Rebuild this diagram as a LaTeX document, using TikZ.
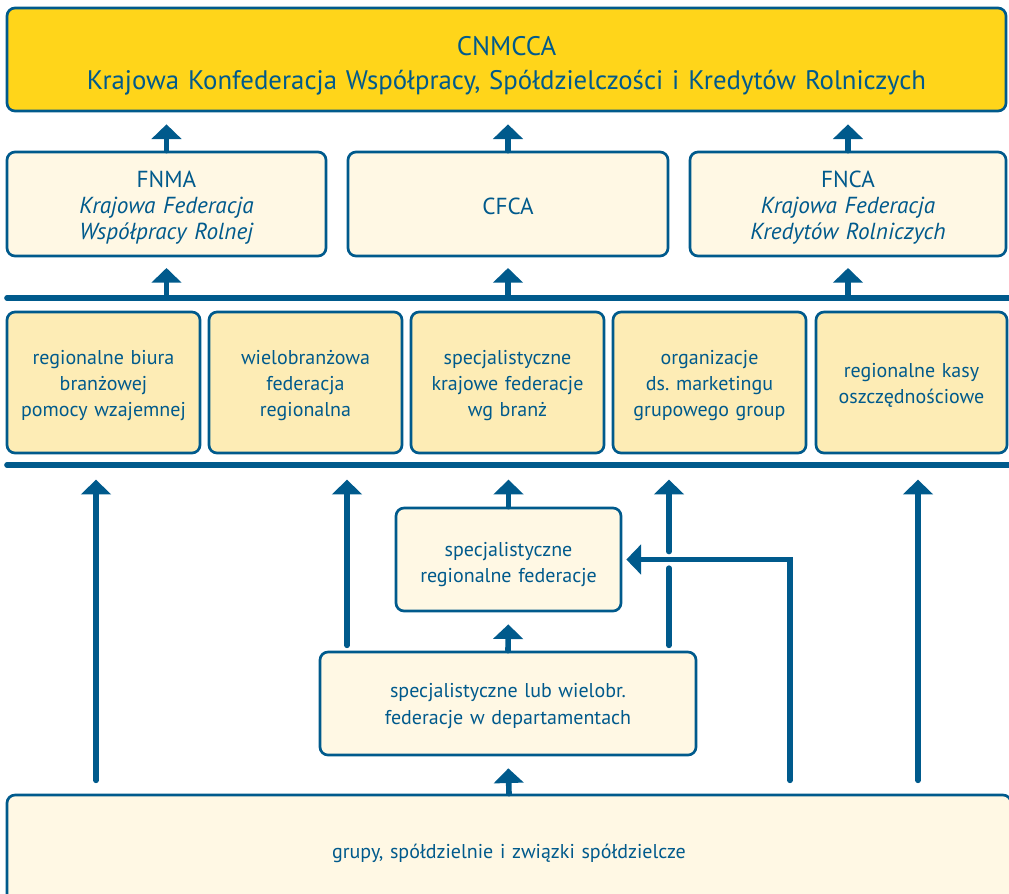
\documentclass[tikz,border=0pt]{standalone}
\usepackage{fontspec}
\setmainfont{PT Sans}
\usetikzlibrary{arrows.meta}

\definecolor{navy}{RGB}{0,90,140}
\definecolor{gold}{RGB}{255,213,26}
\definecolor{cream}{RGB}{255,248,228}
\definecolor{sand}{RGB}{253,236,181}

\tikzset{
  box/.style 2 args={draw=navy,line width=2pt,rounded corners=6pt,fill=cream,
    text=navy,align=center,inner sep=0pt,text width=#1*0.75pt-12pt,
    minimum width=#1*0.75pt,minimum height=#2*0.75pt,
    font=\fontsize{15}{19.5}\selectfont,push=4.5pt},
  push/.style={execute at begin node={\rule{0pt}{\dimexpr\fontcharht\font`\l+#1\relax}}},
  bar/.style={draw=navy,line width=4.2pt,line cap=round},
  arr/.style={draw=navy,line width=4.2pt,line cap=round,
    -{Triangle[width=22pt,length=11pt]}},
}

\begin{document}
\begin{tikzpicture}[x=0.75pt,y=-0.75pt]
\useasboundingbox (0,0) rectangle (1009,893);
\clip (0,0) rectangle (1009,893);

\node[box={999}{103},fill=gold,font=\fontsize{20.1}{25.5}\selectfont,push=10pt] (cnmcca) at (506.5,59.5)
  {CNMCCA\\Krajowa Konfederacja Współpracy, Spółdzielczości i Kredytów Rolniczych};

\node[box={319}{104},font=\fontsize{17.4}{19.5}\selectfont,push=6pt] (fnma) at (166.5,204)
  {FNMA\\\textit{Krajowa Federacja}\\\textit{Współpracy Rolnej}};
\node[box={320}{104},font=\fontsize{17.4}{19.5}\selectfont,push=4pt] (cfca) at (508,204) {CFCA};
\node[box={316}{104},font=\fontsize{17.4}{19.5}\selectfont,push=6pt] (fnca) at (848,204)
  {FNCA\\\textit{Krajowa Federacja}\\\textit{Kredytów Rolniczych}};

\draw[bar] (7,298) coordinate (bar1) -- (1015,298);

\node[box={193}{141},fill=sand] (biura) at (103.5,382.5) {regionalne biura\\branżowej\\pomocy wzajemnej};
\node[box={193}{141},fill=sand] (wielo) at (305.5,382.5) {wielobranżowa\\federacja\\regionalna};
\node[box={193}{141},fill=sand] (krajowe) at (507.5,382.5) {specjalistyczne\\krajowe federacje\\wg branż};
\node[box={193}{141},fill=sand] (marketing) at (709.5,382.5) {organizacje\\ds.\ marketingu\\grupowego group};
\node[box={191}{141},fill=sand] (kasy) at (911.5,382.5) {regionalne kasy\\oszczędnościowe};

\draw[bar] (7,465) coordinate (bar2) -- (1015,465);

\node[box={225}{103},push=7.5pt] (srf) at (508.5,559.5) {specjalistyczne\\regionalne federacje};
\node[box={376}{103},font=\fontsize{15}{20.2}\selectfont,push=4pt] (dept) at (508,703.5)
  {specjalistyczne lub wielobr.\\federacje w departamentach};
\node[box={1004}{112},push=2pt] (base) at (509,851) {grupy, spółdzielnie i związki spółdzielcze};

\coordinate (colA) at (96,0);
\coordinate (colB) at (347,0);
\coordinate (colD) at (669,0);
\coordinate (colL) at (790,0);
\coordinate (colE) at (918,0);

% ku gorze
\draw[arr,shorten >=9pt] (fnma.north) -- (fnma.north |- cnmcca.south);
\draw[arr,shorten >=9pt] (cfca.north) -- (cfca.north |- cnmcca.south);
\draw[arr,shorten >=9pt] (fnca.north) -- (fnca.north |- cnmcca.south);
\draw[arr,shorten >=8pt] (bar1 -| fnma.south) -- (fnma.south);
\draw[arr,shorten >=8pt] (bar1 -| cfca.south) -- (cfca.south);
\draw[arr,shorten >=8pt] (bar1 -| fnca.south) -- (fnca.south);

\draw[arr,shorten <=10pt,shorten >=11pt] (base.north -| colA) -- (bar2 -| colA);
\draw[arr,shorten <=4pt,shorten >=11pt] (dept.north -| colB) -- (bar2 -| colB);
\draw[arr,shorten >=11pt] (srf.north) -- (srf.north |- bar2);
\draw[arr,shorten <=10pt,shorten >=11pt] (base.north -| colE) -- (bar2 -| colE);
\draw[arr,shorten >=9pt] (dept.north) -- (srf.south);
\draw[arr,shorten >=9pt] (base.north) -- (dept.south);

% przerwa przy linii poziomej
\draw[arr,-,shorten <=4pt] (dept.north -| colD) -- ([yshift=-6.5pt]srf.east -| colD);
\draw[arr,shorten >=11pt] ([yshift=6pt]srf.east -| colD) -- (bar2 -| colD);
\draw[arr,shorten <=10pt,shorten >=3pt] (base.north -| colL) -- (srf.east -| colL) -- (srf.east);
\end{tikzpicture}
\end{document}
